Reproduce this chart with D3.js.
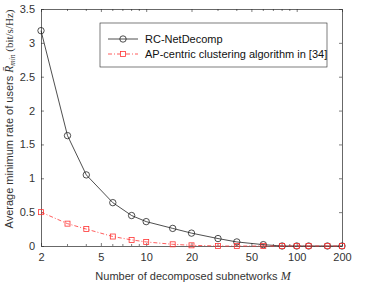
<!DOCTYPE html>
<html><head><meta charset="utf-8">
<script src="https://cdn.jsdelivr.net/npm/d3@7"></script>
<style>body{margin:0;background:#fff}svg{display:block}</style>
</head><body>
<script>
const subnetworks = [2,3,4,6,8,10,15,20,30,40,60,80,100,120,160,200];
const rcNetDecomp = [3.18,1.63,1.05,0.64,0.45,0.36,0.26,0.19,0.11,0.06,0.02,0,0,0,0,0];
const apCentric   = [0.50,0.33,0.25,0.14,0.09,0.06,0.025,0.01,0,0,0,0,0,0,0,0];
const xTickValues = [2,5,10,20,50,100,200];
const yTickValues = [0,0.5,1,1.5,2,2.5,3,3.5];
const seriesNames = ["RC-NetDecomp","AP-centric clustering algorithm in [34]"];

const W=374,H=286;
const PL=41,PR=342,PT=9,PB=246;
const axisColor="#262626";
const svg=d3.select("body").append("svg").attr("width",W).attr("height",H);
const x=d3.scaleLog().domain([2,200]).range([PL,PR]);
const y=d3.scaleLinear().domain([0,3.5]).range([PB,PT]);
const font="'Liberation Sans',Arial,Helvetica,sans-serif";
const serif="'Liberation Serif','DejaVu Serif',serif";

const minor=[];
for(let d=1;d<=100;d*=10){for(let k=1;k<10;k++){const v=k*d;if(v>2&&v<200&&!xTickValues.includes(v))minor.push(v);}}

const g=svg.append("g");
const axBottom=g.append("g").attr("transform",`translate(0,${PB})`)
  .call(d3.axisBottom(x).tickValues(xTickValues).tickFormat(d3.format("d")).tickSizeInner(-3).tickSizeOuter(0).tickPadding(7));
const axTop=g.append("g").attr("transform",`translate(0,${PT})`)
  .call(d3.axisTop(x).tickValues(xTickValues).tickFormat("").tickSizeInner(-3).tickSizeOuter(0));
const axLeft=g.append("g").attr("transform",`translate(${PL},0)`)
  .call(d3.axisLeft(y).tickValues(yTickValues).tickFormat(d=>d).tickSizeInner(-3).tickSizeOuter(0).tickPadding(6));
const axRight=g.append("g").attr("transform",`translate(${PR},0)`)
  .call(d3.axisRight(y).tickValues(yTickValues).tickFormat("").tickSizeInner(-3).tickSizeOuter(0));
g.append("g").selectAll("line").data(minor).join("line")
  .attr("x1",d=>x(d)).attr("x2",d=>x(d)).attr("y1",PB).attr("y2",PB-2).attr("stroke",axisColor).attr("stroke-width",0.6);
g.append("g").selectAll("line").data(minor).join("line")
  .attr("x1",d=>x(d)).attr("x2",d=>x(d)).attr("y1",PT).attr("y2",PT+2).attr("stroke",axisColor).attr("stroke-width",0.6);

[axBottom,axTop,axLeft,axRight].forEach(a=>{
  a.select(".domain").attr("stroke",axisColor).attr("stroke-width",0.7);
  a.selectAll(".tick line").attr("stroke",axisColor).attr("stroke-width",0.6);
  a.selectAll("text").attr("font-family",font).attr("font-size",11).attr("fill","#333");
});

const pts1=subnetworks.map((m,i)=>[m,rcNetDecomp[i]]);
const pts2=subnetworks.map((m,i)=>[m,apCentric[i]]);
const line=d3.line().x(d=>x(d[0])).y(d=>y(d[1]));
g.append("path").datum(pts1).attr("d",line).attr("fill","none").attr("stroke","#222").attr("stroke-width",0.8);
g.append("g").selectAll("circle").data(pts1).join("circle")
  .attr("cx",d=>x(d[0])).attr("cy",d=>y(d[1])).attr("r",3.2)
  .attr("fill","none").attr("stroke","#222").attr("stroke-width",0.8);
const red="#f33";
g.append("path").datum(pts2).attr("d",line).attr("fill","none").attr("stroke",red)
  .attr("stroke-width",0.8).attr("stroke-dasharray","4,2,1,2");
g.append("g").selectAll("rect").data(pts2).join("rect")
  .attr("x",d=>x(d[0])-2.5).attr("y",d=>y(d[1])-2.5).attr("width",5).attr("height",5)
  .attr("fill","none").attr("stroke",red).attr("stroke-width",0.8);

const lg=svg.append("g");
lg.append("rect").attr("x",100).attr("y",23).attr("width",227).attr("height",44)
  .attr("fill","#fff").attr("stroke",axisColor).attr("stroke-width",0.6);
const ly=[39,54];
lg.append("line").attr("x1",108).attr("x2",138).attr("y1",ly[0]).attr("y2",ly[0]).attr("stroke","#222").attr("stroke-width",0.8);
lg.append("circle").attr("cx",123).attr("cy",ly[0]).attr("r",3.2).attr("fill","none").attr("stroke","#222").attr("stroke-width",0.8);
lg.append("line").attr("x1",108).attr("x2",138).attr("y1",ly[1]).attr("y2",ly[1]).attr("stroke",red).attr("stroke-width",0.8).attr("stroke-dasharray","4,2,1,2");
lg.append("rect").attr("x",120.5).attr("y",ly[1]-2.5).attr("width",5).attr("height",5).attr("fill","#fff").attr("stroke",red).attr("stroke-width",0.8);
lg.selectAll("text.lt").data(seriesNames).join("text").attr("class","lt")
  .attr("x",145).attr("y",(d,i)=>ly[i]+4).text(d=>d)
  .attr("font-family",font).attr("font-size",11).attr("fill","#111");

const xl=svg.append("text").attr("x",193).attr("y",280).attr("text-anchor","middle")
  .attr("font-family",font).attr("font-size",11).attr("fill","#333");
xl.append("tspan").text("Number of decomposed subnetworks ");
xl.append("tspan").text("M").attr("font-family",serif).attr("font-style","italic").attr("font-size",12);

const yl=svg.append("text").attr("transform","translate(12.5,119) rotate(-90)").attr("text-anchor","middle")
  .attr("font-family",font).attr("font-size",11).attr("fill","#333");
yl.append("tspan").text("Average minimum rate of users ");
yl.append("tspan").text("R\u0304").attr("font-family",serif).attr("font-style","italic").attr("font-size",11.5);
yl.append("tspan").text("min").attr("font-family",serif).attr("font-style","italic").attr("font-size",7.5).attr("dy",2);
yl.append("tspan").text(" (bit/s/Hz)").attr("font-family",serif).attr("font-size",11).attr("dy",-2);
</script>
</body></html>
